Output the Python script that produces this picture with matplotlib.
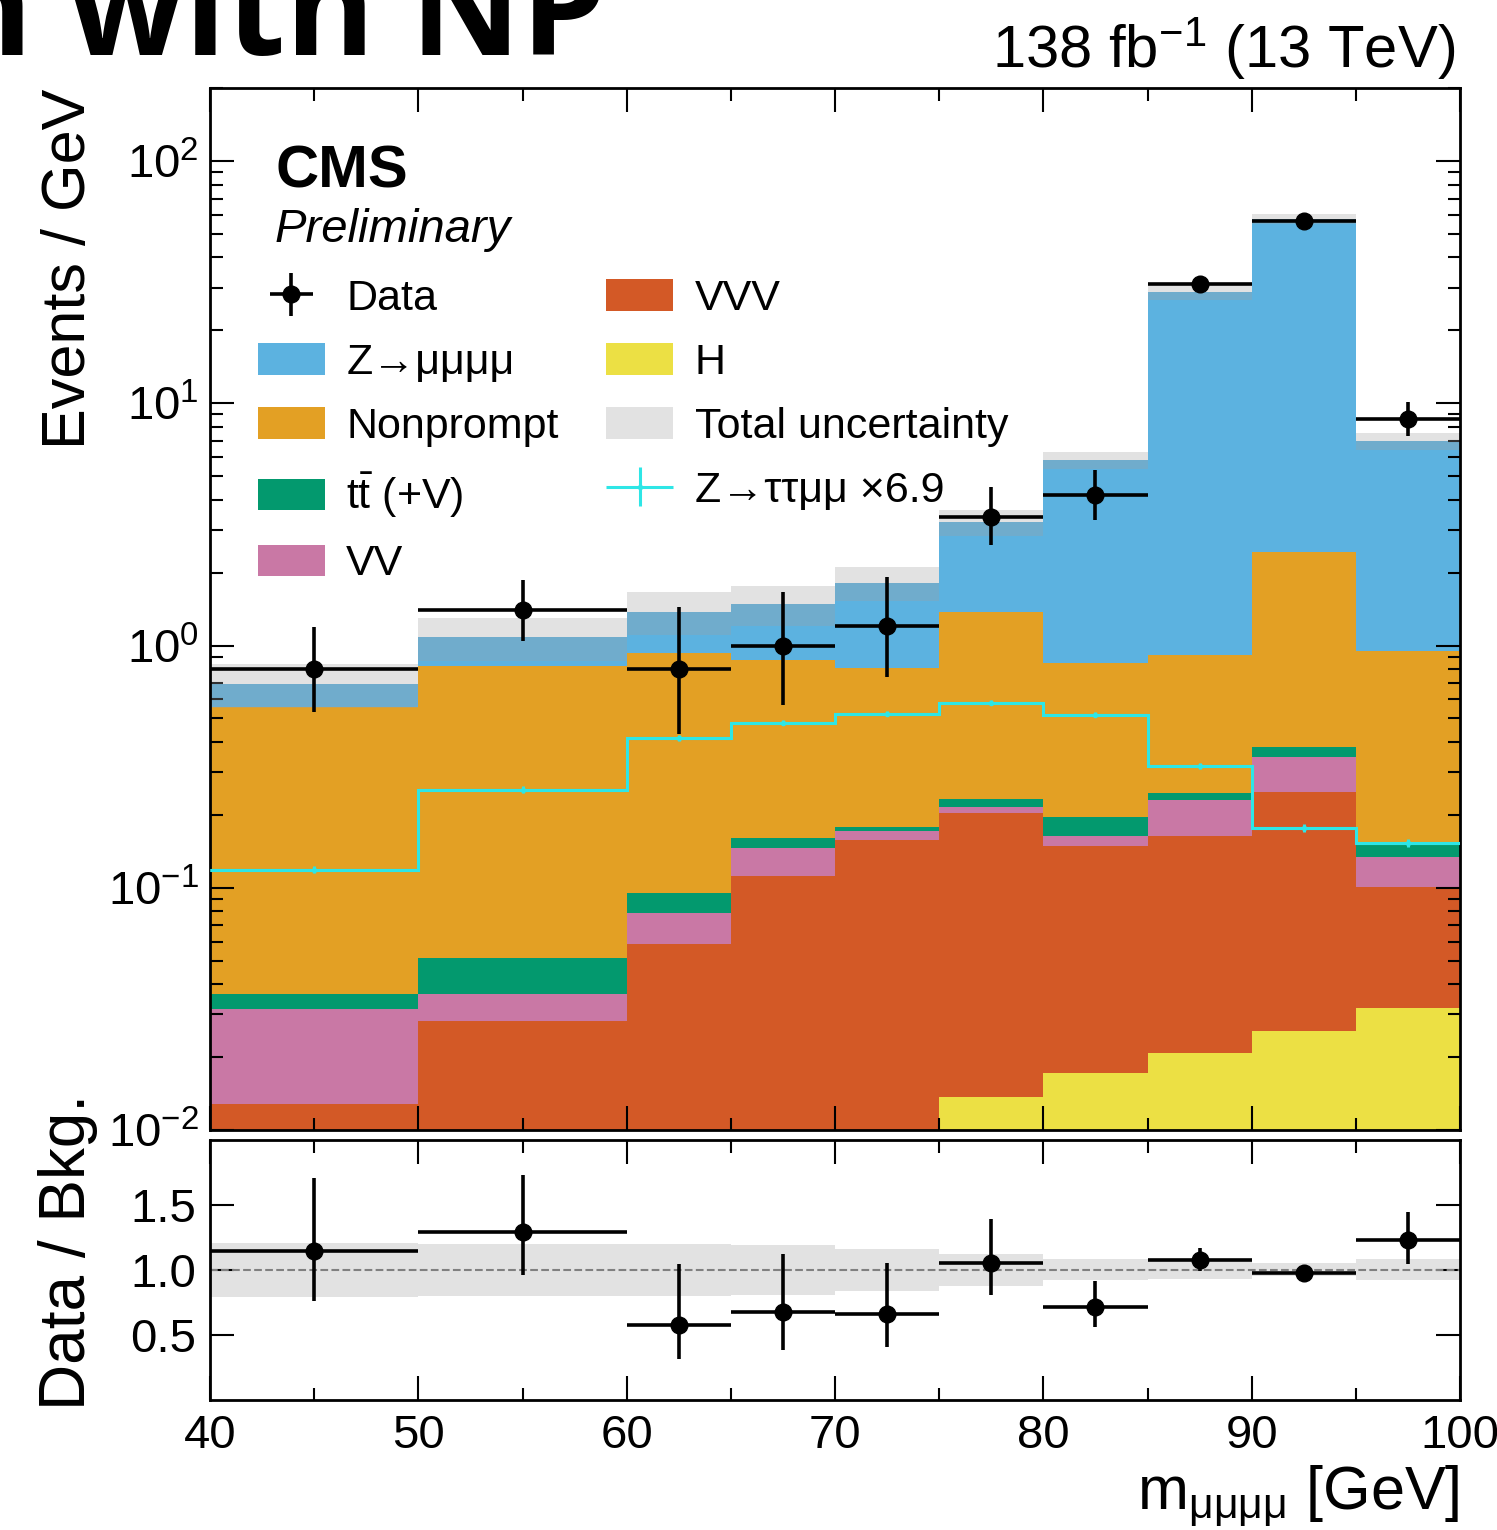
import numpy as np
import matplotlib
matplotlib.use('Agg')
import matplotlib.pyplot as plt
from matplotlib.patches import Patch
from matplotlib.legend_handler import HandlerErrorbar
from matplotlib.ticker import MultipleLocator, LogLocator, NullFormatter, FixedLocator

plt.rcParams['font.family'] = ['Liberation Sans', 'DejaVu Sans']
plt.rcParams['mathtext.fontset'] = 'custom'
plt.rcParams['mathtext.rm'] = 'Liberation Sans'
plt.rcParams['mathtext.it'] = 'Liberation Sans:italic'
plt.rcParams['mathtext.bf'] = 'Liberation Sans:bold'
plt.rcParams['axes.linewidth'] = 2.0

# binning in m(4mu)
edges = np.array([40, 50, 60, 65, 70, 75, 80, 85, 90, 95, 100])

# backgrounds, events / GeV (stacked bottom to top)
h_higgs = [0.0, 0.0, 0.0, 0.0, 0.0, 0.0137, 0.0172, 0.0208, 0.0256, 0.0319]
h_vvv = [0.0128, 0.0282, 0.0587, 0.112, 0.158, 0.190, 0.131, 0.143, 0.223, 0.069]
h_vv = [0.0188, 0.0083, 0.0201, 0.034, 0.014, 0.012, 0.015, 0.067, 0.098, 0.033]
h_ttv = [0.0049, 0.0149, 0.0165, 0.015, 0.007, 0.017, 0.033, 0.016, 0.036, 0.017]
h_nonprompt = [0.52, 0.77, 0.84, 0.71, 0.63, 1.14, 0.65, 0.67, 2.04, 0.80]
h_z4mu = [0.14, 0.26, 0.445, 0.615, 1.01, 1.86, 5.0, 27.9, 55.4, 6.05]

# relative total uncertainty on the background
rel_unc = [0.21, 0.20, 0.20, 0.19, 0.16, 0.12, 0.08, 0.07, 0.05, 0.08]

# observed data, events / GeV with asymmetric errors
data = [0.8, 1.4, 0.8, 1.0, 1.2, 3.4, 4.2, 31.0, 56.6, 8.6]
data_err_lo = [0.27, 0.36, 0.37, 0.43, 0.46, 0.80, 0.91, 2.5, 3.4, 1.3]
data_err_hi = [0.39, 0.47, 0.64, 0.67, 0.71, 1.10, 1.13, 2.6, 3.5, 1.5]

# signal Z -> tau tau mu mu, scaled by 6.9
sig = [0.119, 0.254, 0.417, 0.481, 0.524, 0.581, 0.519, 0.319, 0.177, 0.153]
sig_err = [0.004, 0.008, 0.012, 0.013, 0.014, 0.015, 0.014, 0.010, 0.007, 0.006]

colors = {
    'Z': '#5cb2e0',
    'NP': '#e3a024',
    'ttV': '#03996e',
    'VV': '#c978a5',
    'VVV': '#d35926',
    'H': '#ece044',
    'unc': '#a0a0a0',
    'sig': '#2ee6e6',
}

centers = 0.5 * (edges[1:] + edges[:-1])
half = 0.5 * (edges[1:] - edges[:-1])

layers = [h_higgs, h_vvv, h_vv, h_ttv, h_nonprompt, h_z4mu]
layer_colors = [colors['H'], colors['VVV'], colors['VV'], colors['ttV'], colors['NP'], colors['Z']]
cum = np.cumsum(np.array(layers), axis=0)
total = cum[-1]
unc = total * np.array(rel_unc)

fig = plt.figure(figsize=(14.97, 15.30), dpi=100)
ax = fig.add_axes([0.1403, 0.2614, 0.835, 0.681])
rax = fig.add_axes([0.1403, 0.085, 0.835, 0.170], sharex=ax)

# stack: draw cumulative tops from the largest down
floor = 1e-4
for i in range(len(layers) - 1, -1, -1):
    ax.stairs(np.maximum(cum[i], floor), edges, baseline=floor, fill=True,
              color=layer_colors[i], linewidth=0, zorder=1)

ax.stairs(total + unc, edges, baseline=total - unc, fill=True,
          color=colors['unc'], alpha=0.3, linewidth=0, zorder=2)

ax.stairs(sig, edges, baseline=None, color=colors['sig'], linewidth=2.2, zorder=3)
sig_eb = ax.errorbar(centers, sig, xerr=half, yerr=sig_err, fmt='o', color=colors['sig'],
                     markersize=3, elinewidth=2.2, capsize=0, zorder=3)

data_eb = ax.errorbar(centers, data, xerr=half, yerr=[data_err_lo, data_err_hi], fmt='o',
                      color='black', markersize=12, elinewidth=2.6, capsize=0, zorder=5)

ax.set_yscale('log')
ax.set_xlim(40, 100)
ax.set_ylim(1e-2, 200)
ax.set_ylabel('Events / GeV', fontsize=44, loc='top')
ax.yaxis.set_label_coords(-0.09, 1.0)
ax.yaxis.set_major_locator(LogLocator(base=10, numticks=10))
ax.yaxis.set_minor_locator(LogLocator(base=10, subs=np.arange(2, 10), numticks=20))
ax.yaxis.set_minor_formatter(NullFormatter())
ax.xaxis.set_major_locator(MultipleLocator(10))
ax.xaxis.set_minor_locator(MultipleLocator(5))
ax.tick_params(axis='both', which='major', direction='in', top=True, right=True,
               length=17, width=1.5, labelsize=34, pad=8)
ax.tick_params(axis='both', which='minor', direction='in', top=True, right=True,
               length=9, width=1.5)
ax.tick_params(axis='x', labelbottom=False)

ax.text(0.996, 1.02, '138 fb$^{-1}$ (13 TeV)', transform=ax.transAxes,
        ha='right', va='baseline', fontsize=43)
ax.text(0.052, 0.905, 'CMS', transform=ax.transAxes, fontsize=43, weight='bold', va='baseline')
ax.text(0.052, 0.852, 'Preliminary', transform=ax.transAxes, fontsize=34, style='italic',
        va='baseline')

handles = [
    data_eb,
    Patch(facecolor=colors['Z']),
    Patch(facecolor=colors['NP']),
    Patch(facecolor=colors['ttV']),
    Patch(facecolor=colors['VV']),
    Patch(facecolor=colors['VVV']),
    Patch(facecolor=colors['H']),
    Patch(facecolor=colors['unc'], alpha=0.3),
    sig_eb,
]
labels = [
    'Data',
    'Z→μμμμ',
    'Nonprompt',
    r't$\bar{\mathrm{t}}$ (+V)',
    'VV',
    'VVV',
    'H',
    'Total uncertainty',
    'Z→ττμμ ×6.9',
]
ax.legend(handles, labels, ncol=2, loc='upper left', bbox_to_anchor=(0.038, 0.817),
          frameon=False, fontsize=31, handlelength=1.56, handleheight=0.75,
          handletextpad=0.5, columnspacing=1.1, labelspacing=0.56, borderpad=0,
          borderaxespad=0,
          handler_map={sig_eb: HandlerErrorbar(xerr_size=0.78, yerr_size=0.45)})

# ratio panel
ratio = np.array(data) / total
rax.stairs(1 + np.array(rel_unc), edges, baseline=1 - np.array(rel_unc), fill=True,
           color=colors['unc'], alpha=0.3, linewidth=0)
rax.axhline(1.0, color='grey', linestyle='--', linewidth=1.5)
rax.errorbar(centers, ratio, xerr=half,
             yerr=[np.array(data_err_lo) / total, np.array(data_err_hi) / total],
             fmt='o', color='black', markersize=12, elinewidth=2.6, capsize=0, zorder=5)
rax.set_ylim(0, 2)
rax.yaxis.set_major_locator(FixedLocator([0.5, 1.0, 1.5]))
rax.set_ylabel('Data / Bkg.', fontsize=46)
rax.yaxis.set_label_coords(-0.09, 0.57)
rax.set_xlabel(r'm$_{\mathrm{μμμμ}}$ [GeV]', fontsize=44, loc='right')
rax.tick_params(axis='both', which='major', direction='in', top=True, right=True,
                length=17, width=1.5, labelsize=34, pad=10)
rax.tick_params(axis='both', which='minor', direction='in', top=True, right=True,
                length=9, width=1.5)
rax.yaxis.set_minor_locator(FixedLocator([]))

fig.text(0.405, 0.964, 'Comparison with NP', ha='right', va='baseline', fontsize=98,
         weight='bold', family=['Open Sans', 'DejaVu Sans'])

fig.savefig('out.png', dpi=100)
